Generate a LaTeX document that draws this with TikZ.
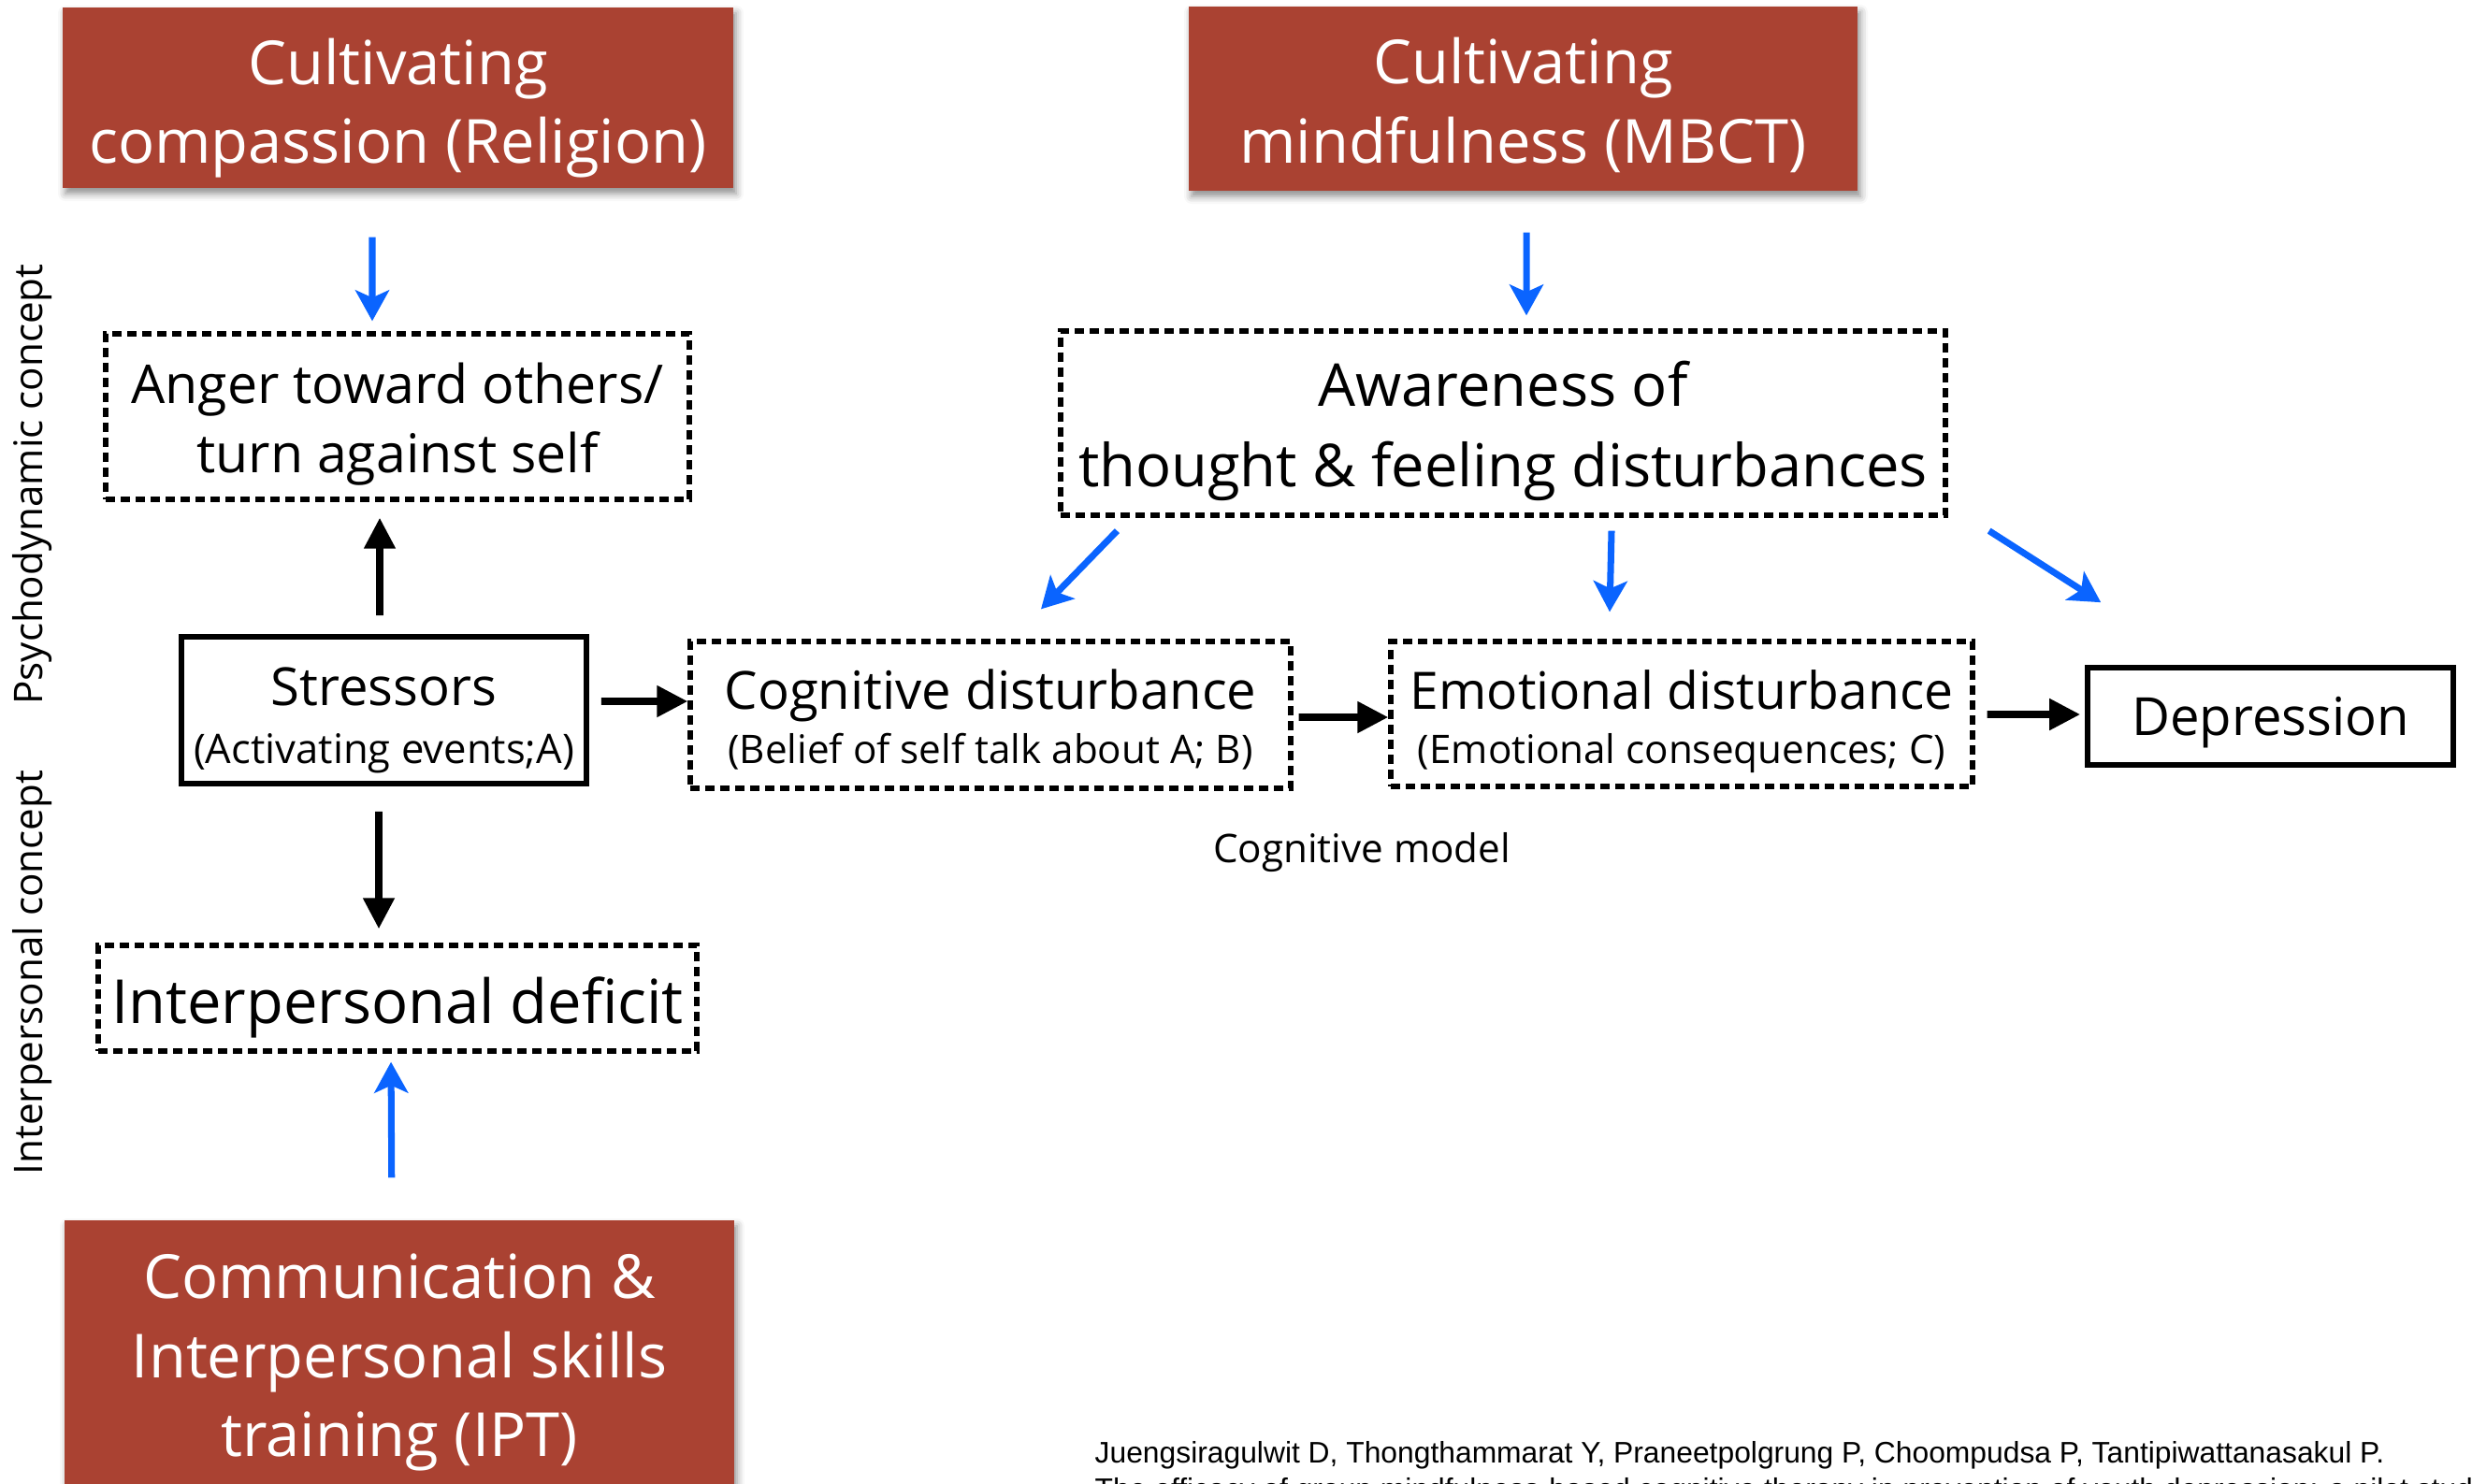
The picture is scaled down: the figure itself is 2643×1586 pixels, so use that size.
\documentclass[tikz,border=0pt]{standalone}
\usepackage{fontspec}
\setmainfont{Open Sans}
\newfontfamily\citefont{Liberation Sans}
\usetikzlibrary{arrows.meta,calc,shadows.blur}
\definecolor{boxred}{RGB}{170,66,50}
\definecolor{arrblue}{RGB}{10,100,255}
\newcommand{\fshead}{\fontsize{18.5}{24}\selectfont}
\newcommand{\fsaware}{\fontsize{18}{24.5}\selectfont}
\newcommand{\fsanger}{\fontsize{16.3}{21}\selectfont}
\newcommand{\fsmid}{\fontsize{16}{19}\selectfont}
\newcommand{\fssub}{\fontsize{12}{16.6}\selectfont}
\newcommand{\fslabel}{\fontsize{12}{14}\selectfont}
\begin{document}
\begin{tikzpicture}[x=0.1mm,y=-0.1mm,
  redbox/.style={fill=boxred,inner sep=0pt,
    blur shadow={shadow xshift=0.3mm,shadow yshift=-0.6mm,shadow blur radius=0.8mm,shadow opacity=45}},
  redtext/.style={text=white,align=center,inner sep=0pt,font=\fshead},
  boxtext/.style={align=center,inner sep=0pt},
  dashbox/.style={draw,line width=1.5pt,dash pattern=on 1mm off 0.6mm,inner sep=0pt},
  solidbox/.style={draw,line width=1.6pt,inner sep=0pt},
  blkarr/.style={-{Triangle[length=3.3mm,width=3.2mm]},line width=2.2pt},
  bluarr/.style={-{Stealth[length=3.3mm,width=3.6mm,inset=0.8mm]},draw=arrblue,line width=2pt}]
\useasboundingbox (0,0) rectangle (2643,1586);
% interventions
\node[redbox,minimum width=71.7mm,minimum height=19.3mm,label={[redtext,yshift=-1.1mm]center:{Cultivating\\compassion (Religion)}}] (relig) at (425.5,104.5) {};
\node[redbox,minimum width=71.5mm,minimum height=19.7mm,label={[redtext,yshift=-0.7mm]center:{Cultivating\\mindfulness (MBCT)}}] (mbct) at (1628.5,105.5) {};
\node[redbox,minimum width=71.6mm,minimum height=29mm,label={[redtext,yshift=-0.7mm]center:{Communication \&\\Interpersonal skills\\training (IPT)}}] (ipt) at (427,1450) {};
% model boxes
\node[dashbox,minimum width=62.4mm,minimum height=17.7mm,label={[boxtext,yshift=-0.85mm,font=\fsanger]center:{Anger toward others/\\turn against self}}] (anger) at (425,445.5) {};
\node[solidbox,minimum width=43.3mm,minimum height=15.7mm,label={[boxtext,yshift=-1.1mm,font=\fontsize{12.4}{17.7}\selectfont]center:{{\fsmid Stressors}\\(Activating events;A)}}] (stress) at (410.5,759.5) {};
\node[dashbox,minimum width=64mm,minimum height=11.3mm,label={[boxtext,yshift=-1mm,font=\fontsize{18.5}{22}\selectfont]center:Interpersonal deficit}] (deficit) at (425,1067.5) {};
\node[dashbox,minimum width=94.6mm,minimum height=19.7mm,label={[boxtext,yshift=-0.85mm,font=\fsaware]center:{Awareness of\\thought \& feeling disturbances}}] (aware) at (1607,452.5) {};
\node[dashbox,minimum width=64.2mm,minimum height=15.7mm,label={[boxtext,yshift=-0.5mm,font=\fssub]center:{{\fsmid Cognitive disturbance}\\(Belief of self talk about A; B)}}] (cogn) at (1059,764.5) {};
\node[dashbox,minimum width=62.2mm,minimum height=15.5mm,label={[boxtext,yshift=-0.8mm,font=\fssub]center:{{\fontsize{15.7}{19}\selectfont Emotional disturbance}\\(Emotional consequences; C)}}] (emot) at (1798,763.5) {};
\node[solidbox,minimum width=39.1mm,minimum height=10.4mm,label={[boxtext,yshift=-0.7mm,font=\fsmid]center:Depression}] (depr) at (2427.5,766) {};
% labels
\node[rotate=90,font=\fslabel] (psy) at (35,518) {Psychodynamic concept};
\node[rotate=90,font=\fslabel] (inter) at (35,1040) {Interpersonal concept};
\node[font=\fslabel] (cogmod) at (1456,912) {Cognitive model};
\node[anchor=base west,inner sep=0pt,font=\citefont\fontsize{9.05}{11}\selectfont] (cite) at (1170,1564) {Juengsiragulwit D, Thongthammarat Y, Praneetpolgrung P, Choompudsa P, Tantipiwattanasakul P.};
\node[anchor=base west,inner sep=0pt,font=\citefont\fontsize{9.05}{11}\selectfont] (citeb) at (1170,1603) {The efficacy of group mindfulness-based cognitive therapy in prevention of youth depression: a pilot study.};
% black arrows
\draw[blkarr,shorten <=2mm,shorten >=1.7mm] ([xshift=-0.45mm]stress.north) -- ([xshift=-1.9mm]anger.south);
\draw[blkarr,shorten <=2.7mm,shorten >=1.5mm] ([xshift=-0.55mm]stress.south) -- ([xshift=-2mm]deficit.north);
\draw[blkarr,shorten <=1.3mm] ([yshift=0.95mm]stress.east) -- ([yshift=1.45mm]cogn.west);
\draw[blkarr,shorten <=0.6mm] ([yshift=-0.25mm]cogn.east) -- ([yshift=-0.35mm]emot.west);
\draw[blkarr,shorten <=1.3mm,shorten >=0.5mm] ([yshift=-0.05mm]emot.east) -- ([yshift=0.2mm]depr.west);
% blue arrows
\draw[bluarr,shorten <=5.2mm,shorten >=1.1mm] ([xshift=-2.75mm]relig.south) -- ([xshift=-2.7mm]anger.north);
\draw[bluarr,shorten <=4.5mm,shorten >=0.9mm] ([xshift=-0.8mm]ipt.north) -- ([xshift=-0.7mm]deficit.south);
\draw[bluarr,shorten <=4.4mm,shorten >=1.4mm] ([xshift=0.35mm]mbct.south) -- ([xshift=2.5mm]aware.north);
\draw[bluarr] ($(aware.south west)+(63,14)$) -- ($(cogn.north)+(54,-32)$);
\draw[bluarr] ($(aware.south)+(116,14)$) -- ($(emot.north)+(-77,-29)$);
\coordinate (deptip) at ($(depr.north west)+(17,-67)$);
\draw[bluarr] ($(aware.south east)+(44,14)$) -- (deptip);
\end{tikzpicture}
\end{document}
